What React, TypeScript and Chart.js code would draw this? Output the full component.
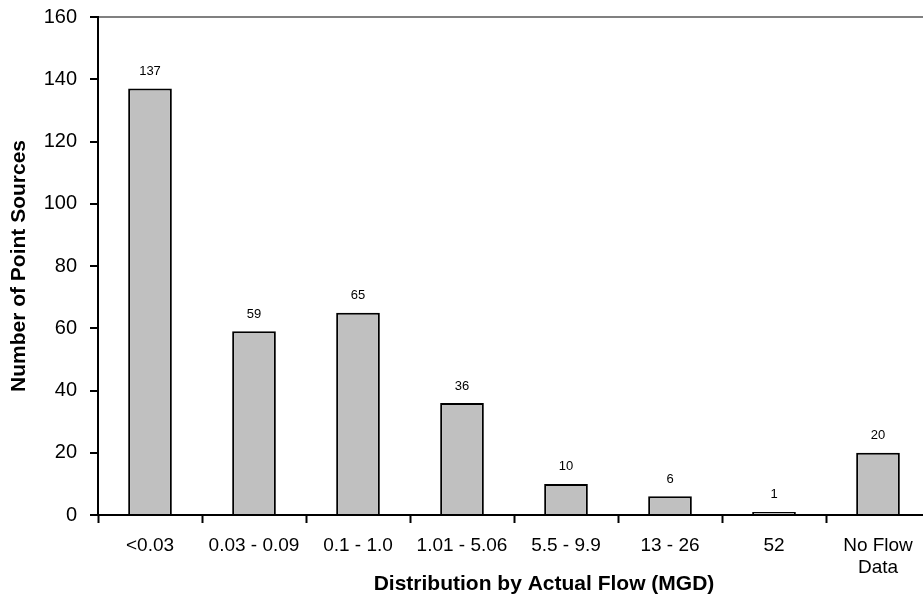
import React, { useEffect, useRef } from "react";
import { Chart, registerables } from "chart.js";

Chart.register(...registerables);

const categories: (string | string[])[] = [
  "<0.03",
  "0.03 - 0.09",
  "0.1 - 1.0",
  "1.01 - 5.06",
  "5.5 - 9.9",
  "13 - 26",
  "52",
  ["No Flow", "Data"],
];
const counts: number[] = [137, 59, 65, 36, 10, 6, 1, 20];
const yTicks: number[] = [0, 20, 40, 60, 80, 100, 120, 140, 160];
const xTitle = "Distribution by Actual Flow (MGD)";
const yTitle = "Number of Point Sources";

const FONT = "'Liberation Sans', Arial, sans-serif";

export default function App() {
  const ref = useRef<HTMLCanvasElement | null>(null);

  useEffect(() => {
    const canvas = ref.current;
    if (!canvas) return;

    const labelPlugin = {
      id: "labelsAndTitles",
      afterDatasetsDraw(chart: any) {
        const ctx = chart.ctx;
        const meta = chart.getDatasetMeta(0);
        ctx.save();
        ctx.fillStyle = "#000";
        ctx.font = `13px ${FONT}`;
        ctx.textAlign = "center";
        ctx.textBaseline = "middle";
        meta.data.forEach((el: any, i: number) => {
          ctx.fillText(String(counts[i]), el.x, el.y - 17);
        });
        ctx.restore();
      },
      afterDraw(chart: any) {
        const ctx = chart.ctx;
        const area = chart.chartArea;
        ctx.save();
        ctx.fillStyle = "#000";
        ctx.font = `bold 21px ${FONT}`;
        ctx.textAlign = "center";
        ctx.textBaseline = "middle";
        ctx.fillText(xTitle, 544, 584);
        ctx.translate(19, (area.top + area.bottom) / 2);
        ctx.rotate(-Math.PI / 2);
        ctx.fillText(yTitle, 0, 0);
        ctx.restore();
      },
    };

    const chart = new Chart(canvas, {
      type: "bar",
      data: {
        labels: categories,
        datasets: [
          {
            data: counts,
            backgroundColor: "#c0c0c0",
            borderColor: "#000",
            borderWidth: 2,
            barPercentage: 0.42,
            categoryPercentage: 1,
          },
        ],
      },
      options: {
        animation: false,
        responsive: false,
        devicePixelRatio: 1,
        layout: { padding: { top: 0, right: 2, left: 0, bottom: 0 } },
        plugins: {
          legend: { display: false },
          tooltip: { enabled: false },
        },
        scales: {
          x: {
            offset: true,
            afterFit(scale: any) {
              scale.height = 90;
            },
            grid: {
              offset: true,
              color: "rgba(0,0,0,0)",
              tickColor: "#000",
              tickLength: 8,
              tickWidth: 2,
            },
            border: { color: "#000", width: 2 },
            ticks: {
              color: "#000",
              font: { family: FONT, size: 19, lineHeight: 1.16 },
              padding: 12,
              maxRotation: 0,
              autoSkip: false,
            },
          },
          y: {
            min: 0,
            max: 160,
            afterFit(scale: any) {
              scale.width = 98;
            },
            afterBuildTicks(scale: any) {
              scale.ticks = yTicks.map((v) => ({ value: v }));
            },
            grid: {
              color: (c: any) => (c.tick && c.tick.value === 160 ? "#808080" : "rgba(0,0,0,0)"),
              lineWidth: 2,
              tickColor: "#000",
              tickLength: 8,
              tickWidth: 2,
            },
            border: { color: "#000", width: 2 },
            ticks: {
              color: "#000",
              font: { family: FONT, size: 20, lineHeight: 0.4 },
              padding: 13,
            },
          },
        },
      },
      plugins: [labelPlugin],
    });

    return () => chart.destroy();
  }, []);

  return (
    <div
      style={{
        position: "fixed",
        left: 0,
        top: 0,
        width: 923,
        height: 605,
        overflow: "hidden",
        background: "#fff",
      }}
    >
      <canvas ref={ref} width={932} height={605} style={{ display: "block" }} />
    </div>
  );
}
